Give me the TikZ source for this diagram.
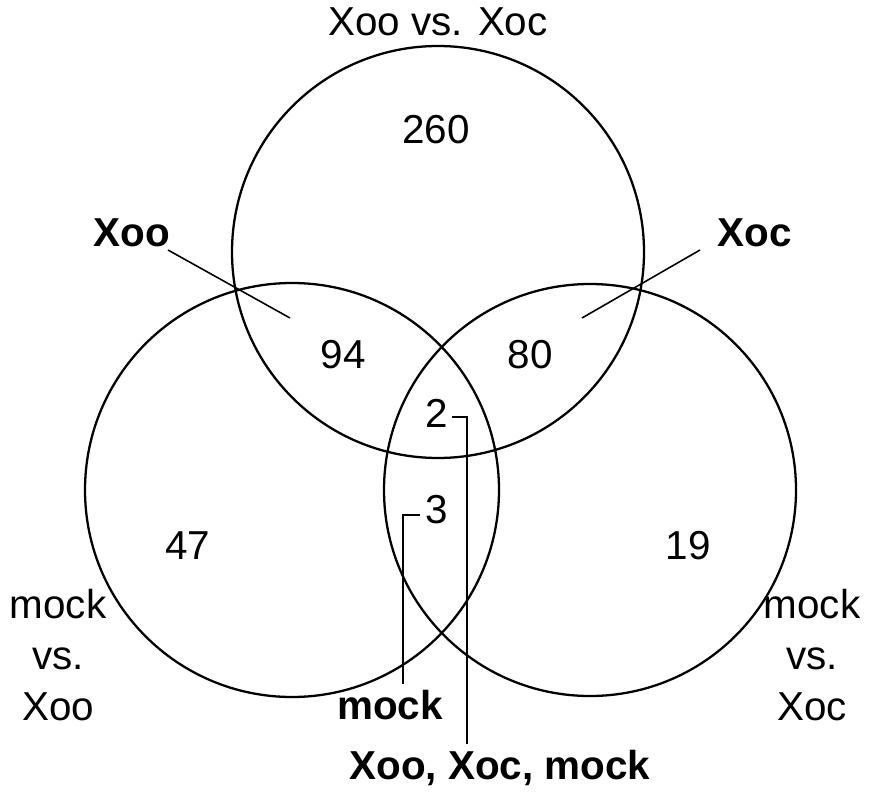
\documentclass[tikz,border=0pt]{standalone}
\usepackage{fontspec}
\setmainfont{Liberation Sans}
\tikzset{set/.style={draw, line width=1.3pt},
  lbl/.style={font=\fontsize{23}{27}\selectfont, align=center},
  blbl/.style={lbl, font=\fontsize{23}{27}\selectfont\bfseries},
  lead/.style={draw, line width=0.9pt}}
\begin{document}
\begin{tikzpicture}[x=0.02cm, y=-0.02cm]
\useasboundingbox (0,0) rectangle (874,800);
% sets
\draw [set] (438,252) circle [radius=206];
\draw [set] (292,490) circle [radius=207];
\draw [set] (590,490) circle [radius=206];
% set titles
\node [lbl] (top) at (438,22) {Xoo vs. Xoc};
\node [lbl] (left) at (58,655) {mock\\[2pt]vs.\\[2pt]Xoo};
\node [lbl] (right) at (812,655) {mock\\[2pt]vs.\\[2pt]Xoc};
% counts
\node [lbl] (n260) at (436,130) {260};
\node [lbl] (n94) at (343,355) {94};
\node [lbl] (n80) at (530,355) {80};
\node [lbl] (n2) at (437,413) {2};
\node [lbl] (n3) at (437,510) {3};
\node [lbl] (n47) at (188,546) {47};
\node [lbl] (n19) at (688,546) {19};
% callouts
\node [blbl] (xoo) at (132,233) {Xoo};
\node [blbl] (xoc) at (755,233) {Xoc};
\node [blbl] (mock) at (390,705) {mock};
\node [blbl] (all) at (500,768) {Xoo, Xoc, mock};
\coordinate (xooEnd) at (290,318);
\coordinate (xocEnd) at (582,318);
\coordinate (mockA) at (420,515);
\coordinate (allA) at (452,417);
\draw [lead] (168,250) -- (xooEnd);
\draw [lead] (700,250) -- (xocEnd);
\draw [lead] (mockA) -- (403,515) -- (mock.north -| 403,0);
\draw [lead] (allA) -- (467,417) -- (all.north -| 467,0);
\end{tikzpicture}
\end{document}
